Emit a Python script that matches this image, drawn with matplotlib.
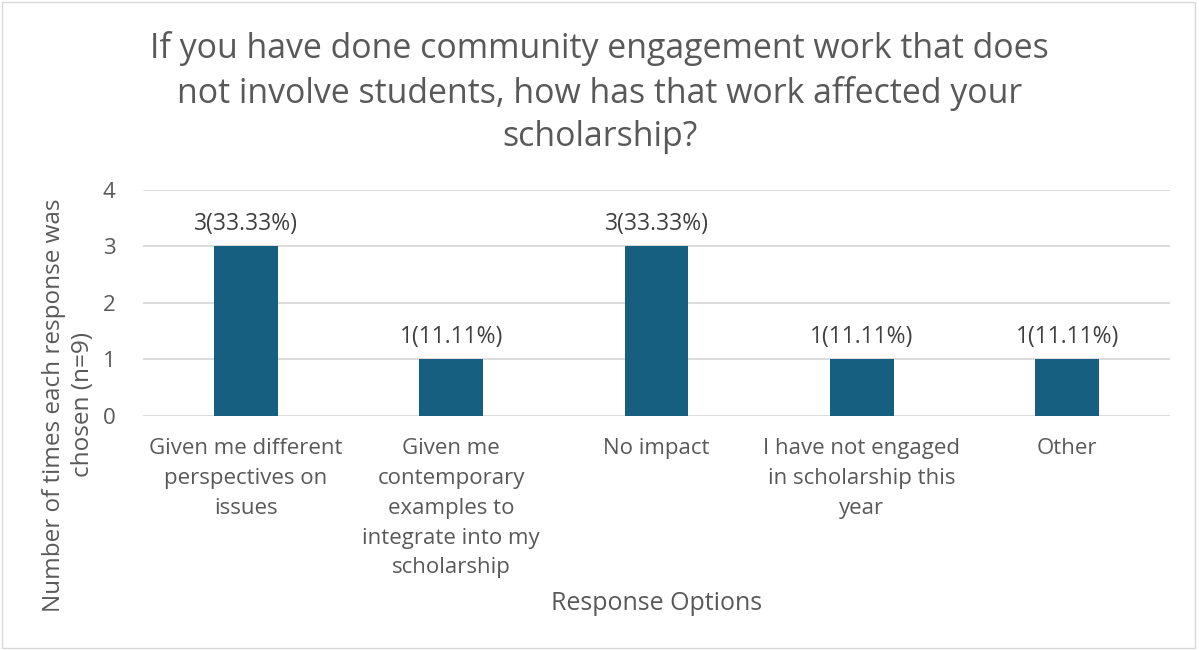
import matplotlib.pyplot as plt
from matplotlib.patches import Rectangle

categories = [
    "Given me different\nperspectives on\nissues",
    "Given me\ncontemporary\nexamples to\nintegrate into my\nscholarship",
    "No impact",
    "I have not engaged\nin scholarship this\nyear",
    "Other",
]
counts = [3, 1, 3, 1, 1]
percents = [33.33, 11.11, 33.33, 11.11, 11.11]

title = ("If you have done community engagement work that does\n"
         "not involve students, how has that work affected your\n"
         "scholarship?")

plt.rcParams['font.family'] = ['Open Sans', 'DejaVu Sans']
txt = '#595959'
bar_col = '#175f80'
grid_col = '#d9d9d9'

fig = plt.figure(figsize=(11.99, 6.5), dpi=100)
ax = fig.add_axes([0.1193, 0.36, 0.8565, 0.3477])

x = range(len(categories))
ax.bar(x, counts, width=0.31, color=bar_col, zorder=3)
for xi, c, p in zip(x, counts, percents):
    ax.text(xi, c + 0.18, f"{c}({p:.2f}%)", ha='center', va='bottom',
            fontsize=16.5, color='#404040')

ax.set_xlim(-0.5, len(categories) - 0.5)
ax.set_ylim(0, 4)
ax.set_yticks([0, 1, 2, 3, 4])
ax.set_xticks(list(x))
ax.set_xticklabels(categories, fontsize=16, color=txt, linespacing=1.55, va='top')
ax.tick_params(axis='y', labelsize=16, labelcolor=txt, length=0, pad=20)
ax.tick_params(axis='x', length=0, pad=16)
ax.grid(axis='y', color=grid_col, linewidth=1.3, zorder=0)
for s in ax.spines.values():
    s.set_visible(False)

fig.text(0.5, 0.952, title, ha='center', va='top', fontsize=24.4, color=txt,
         linespacing=1.36)
fig.text(0.057, 0.377, "Number of times each response was\nchosen (n=9)",
         rotation=90, ha='center', va='center', fontsize=17.5, color=txt,
         multialignment='center', linespacing=1.3)
fig.text(0.548, 0.072, "Response Options", ha='center', va='center',
         fontsize=18, color=txt)

fig.patches.append(Rectangle((0.002, 0.003), 0.995, 0.994, transform=fig.transFigure,
                             fill=False, edgecolor=grid_col, linewidth=1))

fig.savefig('out.png', dpi=100)
